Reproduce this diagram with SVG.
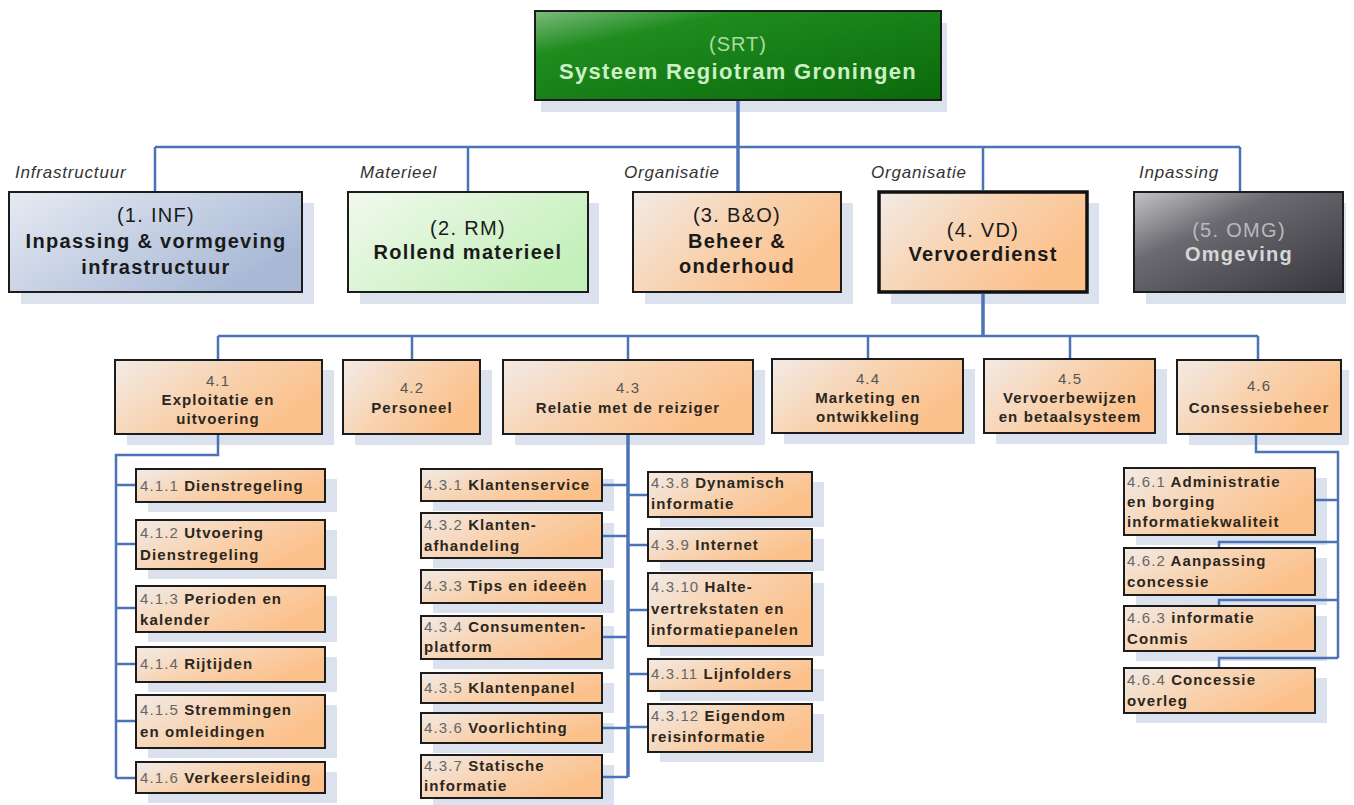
<svg xmlns="http://www.w3.org/2000/svg" width="1354" height="805" viewBox="0 0 1354 805">
<defs>
<linearGradient id="gTop" x1="0" y1="0" x2="1" y2="1">
<stop offset="0" stop-color="#7dbb7d"/><stop offset="0.25" stop-color="#1f8c1f"/><stop offset="1" stop-color="#0a690a"/>
</linearGradient>
<linearGradient id="gInf" x1="0" y1="0" x2="1" y2="0.6">
<stop offset="0" stop-color="#e6ebf3"/><stop offset="1" stop-color="#a8b8d5"/>
</linearGradient>
<linearGradient id="gRm" x1="0" y1="0" x2="1" y2="0.6">
<stop offset="0" stop-color="#f1f9ed"/><stop offset="1" stop-color="#c4f0ba"/>
</linearGradient>
<linearGradient id="gOr" x1="0" y1="0" x2="1" y2="0.5">
<stop offset="0" stop-color="#f2ebe6"/><stop offset="0.55" stop-color="#f8d1ad"/><stop offset="1" stop-color="#fcc08a"/>
</linearGradient>
<linearGradient id="gOmg" x1="0" y1="0" x2="1" y2="1">
<stop offset="0" stop-color="#c4c4c8"/><stop offset="0.35" stop-color="#6a6a70"/><stop offset="1" stop-color="#36363c"/>
</linearGradient>
</defs>
<style>
.sh{fill:#dbe2ed}
.bx{stroke:#1c1c1c;stroke-width:2}
.or{fill:url(#gOr)}
.c{stroke:#4c73b6;stroke-width:2.5;fill:none}
.ct{stroke:#4c73b6;stroke-width:3.5;fill:none}
text{font-family:"Liberation Sans",Arial,sans-serif}
.lab{font-size:17px;font-style:italic;fill:#333;letter-spacing:0.8px}
.t2{font-size:20px;text-anchor:middle;fill:#1a1a1a;letter-spacing:1.3px}
.t3{font-size:15px;text-anchor:middle;fill:#2a2620;letter-spacing:1.1px;font-weight:bold}
.t4{font-size:15px;fill:#2a2620;letter-spacing:1.1px;font-weight:bold}
.b{font-weight:bold}
.n{font-weight:normal;fill:#666}
</style>
<rect width="1354" height="805" fill="#ffffff"/>

<g id="srt">
<rect class="sh" x="541" y="23" width="406" height="89"/>
<rect class="bx" x="535" y="11" width="406" height="89" fill="url(#gTop)"/>
<text x="738" y="51" font-size="20" text-anchor="middle" fill="#a9dca2" letter-spacing="1">(SRT)</text>
<text x="738" y="79" font-size="22" font-weight="bold" text-anchor="middle" fill="#cdf0c6" letter-spacing="1.3">Systeem Regiotram Groningen</text>
</g>

<g id="labels">
<text class="lab" x="15" y="178">Infrastructuur</text>
<text class="lab" x="360" y="178">Materieel</text>
<text class="lab" x="624" y="178">Organisatie</text>
<text class="lab" x="871" y="178">Organisatie</text>
<text class="lab" x="1139" y="178">Inpassing</text>
</g>

<g id="inf">
<rect class="sh" x="21" y="203" width="293" height="101"/>
<rect class="bx" x="9" y="192" width="293" height="100" fill="url(#gInf)"/>
<text class="t2" x="156" y="222">(1. INF)</text>
<text class="t2 b" x="156" y="248">Inpassing &amp; vormgeving</text>
<text class="t2 b" x="156" y="274">infrastructuur</text>
</g>
<g id="rm">
<rect class="sh" x="360" y="203" width="239" height="101"/>
<rect class="bx" x="348" y="192" width="240" height="100" fill="url(#gRm)"/>
<text class="t2" x="468" y="235">(2. RM)</text>
<text class="t2 b" x="468" y="259">Rollend materieel</text>
</g>
<g id="bo">
<rect class="sh" x="645" y="203" width="208" height="101"/>
<rect class="bx or" x="633" y="192" width="208" height="100"/>
<text class="t2" x="737" y="222">(3. B&amp;O)</text>
<text class="t2 b" x="737" y="248">Beheer &amp;</text>
<text class="t2 b" x="737" y="273">onderhoud</text>
</g>
<g id="vd">
<rect class="sh" x="891" y="203" width="208" height="101"/>
<rect class="or" x="879" y="192" width="208" height="100" stroke="#111" stroke-width="3.5"/>
<text class="t2" x="983" y="237">(4. VD)</text>
<text class="t2 b" x="983" y="261">Vervoerdienst</text>
</g>
<g id="omg">
<rect class="sh" x="1146" y="203" width="200" height="101"/>
<rect class="bx" x="1134" y="192" width="209" height="100" fill="url(#gOmg)"/>
<text class="t2" x="1239" y="237" style="fill:#b9b9bd">(5. OMG)</text>
<text class="t2 b" x="1239" y="261" style="fill:#d6d6d8">Omgeving</text>
</g>

<g id="n41">
<rect class="sh" x="127" y="370" width="207" height="75"/>
<rect class="bx or" x="115" y="360" width="207" height="74"/>
<text class="t3" x="218" y="386"><tspan class="n" style="fill:#555">4.1</tspan></text>
<text class="t3" x="218" y="405">Exploitatie en</text>
<text class="t3" x="218" y="424">uitvoering</text>
</g>
<g id="n42">
<rect class="sh" x="355" y="370" width="137" height="75"/>
<rect class="bx or" x="343" y="360" width="137" height="74"/>
<text class="t3" x="412" y="393"><tspan class="n" style="fill:#555">4.2</tspan></text>
<text class="t3" x="412" y="413">Personeel</text>
</g>
<g id="n43">
<rect class="sh" x="515" y="370" width="250" height="75"/>
<rect class="bx or" x="503" y="360" width="250" height="74"/>
<text class="t3" x="628" y="393"><tspan class="n" style="fill:#555">4.3</tspan></text>
<text class="t3" x="628" y="413">Relatie met de reiziger</text>
</g>
<g id="n44">
<rect class="sh" x="784" y="369" width="191" height="75"/>
<rect class="bx or" x="772" y="359" width="191" height="74"/>
<text class="t3" x="868" y="384"><tspan class="n" style="fill:#555">4.4</tspan></text>
<text class="t3" x="868" y="403">Marketing en</text>
<text class="t3" x="868" y="422">ontwikkeling</text>
</g>
<g id="n45">
<rect class="sh" x="996" y="369" width="171" height="75"/>
<rect class="bx or" x="984" y="359" width="171" height="74"/>
<text class="t3" x="1070" y="384"><tspan class="n" style="fill:#555">4.5</tspan></text>
<text class="t3" x="1070" y="403">Vervoerbewijzen</text>
<text class="t3" x="1070" y="422">en betaalsysteem</text>
</g>
<g id="n46">
<rect class="sh" x="1189" y="370" width="160" height="75"/>
<rect class="bx or" x="1177" y="360" width="164" height="74"/>
<text class="t3" x="1259" y="391"><tspan class="n" style="fill:#555">4.6</tspan></text>
<text class="t3" x="1259" y="413">Consessiebeheer</text>
</g>

<g id="n411"><rect class="sh" x="148" y="479" width="189" height="33"/><rect class="bx or" x="136" y="469" width="189" height="33"/><text class="t4" x="140" y="491"><tspan class="n">4.1.1</tspan> Dienstregeling</text></g>
<g id="n412"><rect class="sh" x="148" y="530" width="189" height="49"/><rect class="bx or" x="136" y="520" width="189" height="49"/><text class="t4" x="140" y="538"><tspan class="n">4.1.2</tspan> Utvoering</text><text class="t4" x="140" y="560">Dienstregeling</text></g>
<g id="n413"><rect class="sh" x="148" y="596" width="189" height="46"/><rect class="bx or" x="136" y="586" width="189" height="46"/><text class="t4" x="140" y="604"><tspan class="n">4.1.3</tspan> Perioden en</text><text class="t4" x="140" y="625">kalender</text></g>
<g id="n414"><rect class="sh" x="148" y="657" width="189" height="35"/><rect class="bx or" x="136" y="647" width="189" height="35"/><text class="t4" x="140" y="669"><tspan class="n">4.1.4</tspan> Rijtijden</text></g>
<g id="n415"><rect class="sh" x="148" y="705" width="189" height="53"/><rect class="bx or" x="136" y="695" width="189" height="53"/><text class="t4" x="140" y="715"><tspan class="n">4.1.5</tspan> Stremmingen</text><text class="t4" x="140" y="737">en omleidingen</text></g>
<g id="n416"><rect class="sh" x="148" y="772" width="189" height="31"/><rect class="bx or" x="136" y="762" width="189" height="31"/><text class="t4" x="140" y="783"><tspan class="n">4.1.6</tspan> Verkeersleiding</text></g>

<g id="n431"><rect class="sh" x="433" y="479" width="181" height="32"/><rect class="bx or" x="421" y="469" width="181" height="32"/><text class="t4" x="424" y="490"><tspan class="n">4.3.1</tspan> Klantenservice</text></g>
<g id="n432"><rect class="sh" x="433" y="523" width="181" height="45"/><rect class="bx or" x="421" y="513" width="181" height="45"/><text class="t4" x="424" y="530"><tspan class="n">4.3.2</tspan> Klanten-</text><text class="t4" x="424" y="551">afhandeling</text></g>
<g id="n433"><rect class="sh" x="433" y="580" width="181" height="33"/><rect class="bx or" x="421" y="570" width="181" height="33"/><text class="t4" x="424" y="591"><tspan class="n">4.3.3</tspan> Tips en ideeën</text></g>
<g id="n434"><rect class="sh" x="433" y="626" width="181" height="43"/><rect class="bx or" x="421" y="616" width="181" height="43"/><text class="t4" x="424" y="632"><tspan class="n">4.3.4</tspan> Consumenten-</text><text class="t4" x="424" y="652">platform</text></g>
<g id="n435"><rect class="sh" x="433" y="683" width="181" height="30"/><rect class="bx or" x="421" y="673" width="181" height="30"/><text class="t4" x="424" y="693"><tspan class="n">4.3.5</tspan> Klantenpanel</text></g>
<g id="n436"><rect class="sh" x="433" y="723" width="181" height="30"/><rect class="bx or" x="421" y="713" width="181" height="30"/><text class="t4" x="424" y="733"><tspan class="n">4.3.6</tspan> Voorlichting</text></g>
<g id="n437"><rect class="sh" x="433" y="765" width="181" height="43"/><rect class="bx or" x="421" y="755" width="181" height="43"/><text class="t4" x="424" y="771"><tspan class="n">4.3.7</tspan> Statische</text><text class="t4" x="424" y="791">informatie</text></g>

<g id="n438"><rect class="sh" x="660" y="482" width="164" height="45"/><rect class="bx or" x="648" y="472" width="164" height="45"/><text class="t4" x="651" y="488"><tspan class="n">4.3.8</tspan> Dynamisch</text><text class="t4" x="651" y="509">informatie</text></g>
<g id="n439"><rect class="sh" x="660" y="539" width="164" height="32"/><rect class="bx or" x="648" y="529" width="164" height="32"/><text class="t4" x="651" y="550"><tspan class="n">4.3.9</tspan> Internet</text></g>
<g id="n4310"><rect class="sh" x="660" y="583" width="164" height="73"/><rect class="bx or" x="648" y="573" width="164" height="73"/><text class="t4" x="651" y="592"><tspan class="n">4.3.10</tspan> Halte-</text><text class="t4" x="651" y="614">vertrekstaten en</text><text class="t4" x="651" y="635">informatiepanelen</text></g>
<g id="n4311"><rect class="sh" x="660" y="669" width="164" height="32"/><rect class="bx or" x="648" y="659" width="164" height="32"/><text class="t4" x="651" y="679"><tspan class="n">4.3.11</tspan> Lijnfolders</text></g>
<g id="n4312"><rect class="sh" x="660" y="714" width="164" height="48"/><rect class="bx or" x="648" y="704" width="164" height="48"/><text class="t4" x="651" y="721"><tspan class="n">4.3.12</tspan> Eigendom</text><text class="t4" x="651" y="742">reisinformatie</text></g>

<g id="n461"><rect class="sh" x="1136" y="478" width="191" height="67"/><rect class="bx or" x="1124" y="468" width="191" height="67"/><text class="t4" x="1127" y="487"><tspan class="n">4.6.1</tspan> Administratie</text><text class="t4" x="1127" y="507">en borging</text><text class="t4" x="1127" y="527">informatiekwaliteit</text></g>
<g id="n462"><rect class="sh" x="1136" y="558" width="191" height="47"/><rect class="bx or" x="1124" y="548" width="191" height="47"/><text class="t4" x="1127" y="566"><tspan class="n">4.6.2</tspan> Aanpassing</text><text class="t4" x="1127" y="587">concessie</text></g>
<g id="n463"><rect class="sh" x="1136" y="616" width="191" height="45"/><rect class="bx or" x="1124" y="606" width="191" height="45"/><text class="t4" x="1127" y="623"><tspan class="n">4.6.3</tspan> informatie</text><text class="t4" x="1127" y="644">Conmis</text></g>
<g id="n464"><rect class="sh" x="1136" y="678" width="191" height="45"/><rect class="bx or" x="1124" y="668" width="191" height="45"/><text class="t4" x="1127" y="685"><tspan class="n">4.6.4</tspan> Concessie</text><text class="t4" x="1127" y="706">overleg</text></g>

<g id="connectors">
<path class="ct" d="M738,101 V191"/>
<path class="c" d="M155,147 H1240 M155,147 V191 M468,147 V191 M983,147 V190 M1240,147 V191"/>
<path class="ct" d="M983,294 V336"/>
<path class="c" d="M218,336 H1258 M218,336 V359 M412,336 V359 M628,336 V359 M868,336 V358 M1070,336 V358 M1258,336 V359"/>
<path class="c" d="M218,435 V455 H116 V778 M116,485 H135 M116,544 H135 M116,608 H135 M116,664 H135 M116,721 H135 M116,778 H135"/>
<path class="ct" d="M628,435 V777"/>
<path class="c" d="M603,485 H628 M603,536 H628 M603,637 H628 M603,728 H628 M603,777 H628 M628,495 H647 M628,545 H647 M628,610 H647 M628,674 H647 M628,727 H647"/>
<path class="c" d="M1256,435 V452 H1338 V658 M1316,500 H1338 M1338,542 H1219 V547 M1338,600 H1219 V605 M1338,658 H1219 V667"/>
</g>
</svg>
